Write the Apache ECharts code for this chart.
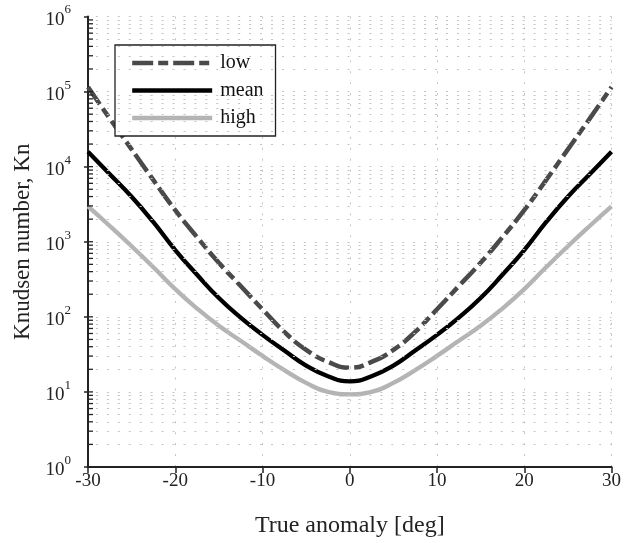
<!DOCTYPE html>
<html>
<head>
<meta charset="utf-8">
<script src="https://cdn.jsdelivr.net/npm/echarts@6/dist/echarts.min.js"></script>
<style>
html,body{margin:0;padding:0;background:#fff;}
#chart{width:624px;height:543px;}
</style>
</head>
<body>
<div id="chart"></div>
<script>
// True anomaly [deg]
const anomaly = [-30, -27.5, -25, -22.5, -20, -17.5, -15, -12.5, -10, -7.5, -5, -2.5, 0, 2.5, 5, 7.5, 10, 12.5, 15, 17.5, 20, 22.5, 25, 27.5, 30];
// Knudsen number
const lowKn  = [114800, 43650, 17000, 6610, 2630, 1150, 525, 257, 126, 63.1, 36.3, 25.1, 21, 25.1, 36.3, 63.1, 126, 257, 525, 1150, 2630, 6610, 17000, 43650, 114800];
const meanKn = [15800, 7940, 3980, 1820, 776, 363, 178, 97.7, 57.5, 35.5, 22.4, 16.2, 13.8, 16.2, 22.4, 35.5, 57.5, 97.7, 178, 363, 776, 1820, 3980, 7940, 15800];
const highKn = [2950, 1620, 871, 457, 234, 129, 75.9, 47.9, 30.2, 19.5, 13.2, 10, 9.3, 10, 13.2, 19.5, 30.2, 47.9, 75.9, 129, 234, 457, 871, 1620, 2950];
const seriesNames = ['low', 'mean', 'high'];
const xTicks = [-30, -20, -10, 0, 10, 20, 30];
const yDecades = [1, 10, 100, 1000, 10000, 100000, 1000000];

// minor log grid positions (2..9 per decade)
const yMinor = [];
for (let k = 0; k < yDecades.length - 1; k++) {
  for (let m = 2; m <= 9; m++) yMinor.push(m * yDecades[k]);
}
const yAllTicks = yMinor.concat(yDecades.slice(1, -1));

const FONT = 'Liberation Serif';
const GRIDC = '#c4c4c4';
const dotted = [2, 8.94];

function pairs(ys) { return anomaly.map((x, i) => [x, ys[i]]); }

const chart = echarts.init(document.getElementById('chart'), null, {renderer: 'canvas'});
chart.setOption({
  animation: false,
  backgroundColor: '#fff',
  grid: {left: 88, right: 11, top: 16.5, bottom: 76, containLabel: false},
  legend: {
    data: seriesNames,
    orient: 'vertical',
    left: 115, top: 45,
    backgroundColor: '#fff',
    borderColor: '#222', borderWidth: 1.3,
    padding: [8, 12, 8, 15],
    itemWidth: 80, itemHeight: 20, itemGap: 7.5,
    itemStyle: {opacity: 0},
    lineStyle: {width: 4.4},
    textStyle: {fontFamily: FONT, fontSize: 20, color: '#111', lineHeight: 20, padding: [0, 0, 0, 3]}
  },
  xAxis: {
    type: 'value', min: -30, max: 30, interval: 10,
    name: 'True anomaly [deg]', nameLocation: 'middle', nameGap: 47,
    nameTextStyle: {fontFamily: FONT, fontSize: 24, color: '#222'},
    axisLine: {show: true, onZero: false, lineStyle: {color: '#222', width: 2}},
    axisTick: {show: true, inside: false, length: 6, lineStyle: {color: '#222', width: 1.5}},
    axisLabel: {fontFamily: FONT, fontSize: 19, color: '#222', margin: 5,
      formatter: v => String(v)},
    splitLine: {show: true, lineStyle: {color: GRIDC, width: 1, type: dotted}}
  },
  yAxis: {
    type: 'log', logBase: 10, min: 1, max: 1000000, splitNumber: 6,
    name: 'Knudsen number, Kn', nameLocation: 'middle', nameGap: 54,
    nameTextStyle: {fontFamily: FONT, fontSize: 23, color: '#222'},
    axisLine: {show: true, onZero: false, lineStyle: {color: '#222', width: 2}},
    axisTick: {show: true, inside: false, length: 4, lineStyle: {color: '#222', width: 1.5}},
    axisLabel: {
      margin: 17,
      formatter: v => '{b|10}{s|' + Math.round(Math.log10(v)) + '}',
      rich: {
        b: {fontFamily: FONT, fontSize: 19, color: '#222', verticalAlign: 'bottom', lineHeight: 26},
        s: {fontFamily: FONT, fontSize: 13, color: '#222', verticalAlign: 'top', lineHeight: 26}
      }
    },
    splitLine: {show: true, lineStyle: {color: GRIDC, width: 1, type: dotted, dashOffset: 3}}
  },
  series: [
    {
      name: 'gridMinor', type: 'line', data: [], silent: true,
      markLine: {
        silent: true, symbol: ['none', 'none'], label: {show: false},
        lineStyle: {color: GRIDC, width: 1, type: dotted, dashOffset: 3},
        emphasis: {disabled: true},
        data: yMinor.map(v => ({yAxis: v}))
      }
    },
    {
      name: 'ticksIn', type: 'custom', silent: true, z: 5,
      data: yAllTicks.map(v => [-30, v]),
      renderItem: (params, api) => {
        const p = api.coord([api.value(0), api.value(1)]);
        return {type: 'line', shape: {x1: p[0], y1: p[1], x2: p[0] + 5, y2: p[1]},
          style: {stroke: '#222', lineWidth: 1.3}};
      }
    },
    {
      name: 'low', type: 'line', data: pairs(lowKn), showSymbol: false, symbol: 'none',
      smooth: 0.5, z: 3,
      lineStyle: {color: '#4a4a4a', width: 4.5, type: [21, 5, 10, 5], cap: 'butt'},
      itemStyle: {color: '#4a4a4a'}
    },
    {
      name: 'mean', type: 'line', data: pairs(meanKn), showSymbol: false, symbol: 'none',
      smooth: 0.5, z: 4,
      lineStyle: {color: '#000', width: 4.3},
      itemStyle: {color: '#000'}
    },
    {
      name: 'high', type: 'line', data: pairs(highKn), showSymbol: false, symbol: 'none',
      smooth: 0.5, z: 3,
      lineStyle: {color: '#b4b4b4', width: 4.3},
      itemStyle: {color: '#b4b4b4'}
    }
  ]
});
</script>
</body>
</html>
